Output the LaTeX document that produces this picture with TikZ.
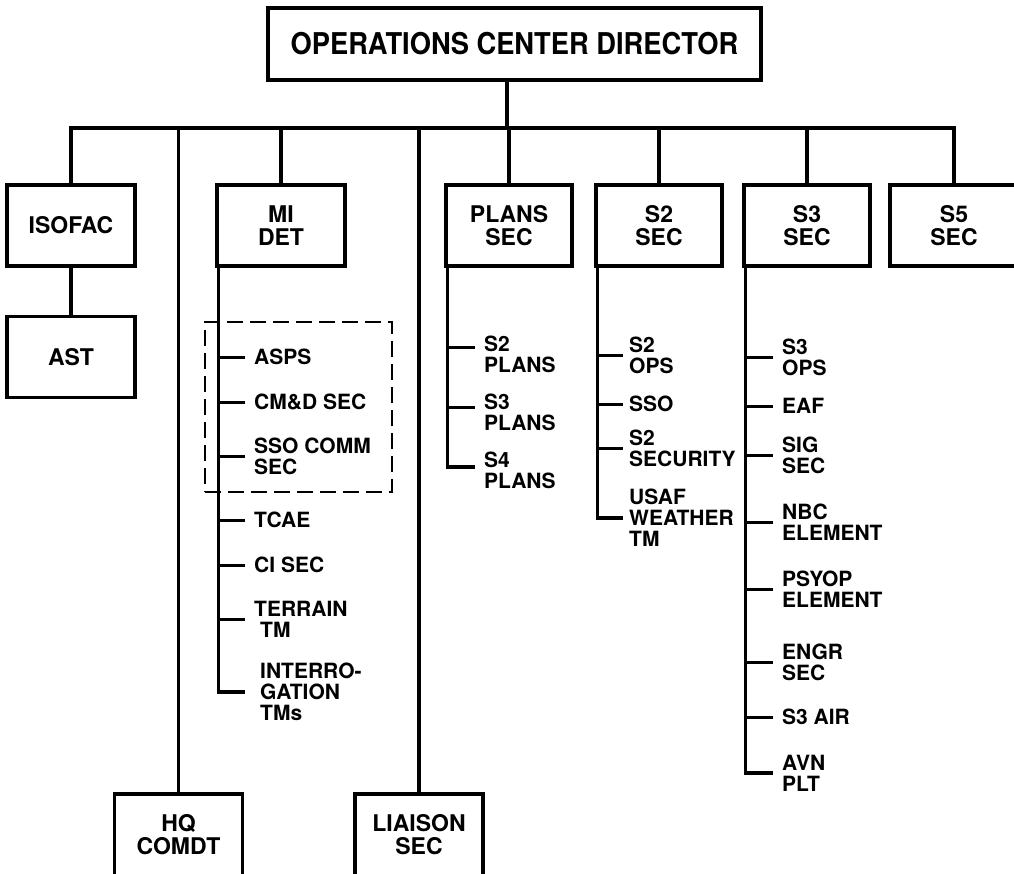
\documentclass[tikz,border=0pt]{standalone}
\usepackage{fontspec}
\setmainfont{TeX Gyre Heros}
\usepackage{graphicx}
\usetikzlibrary{calc}
\begin{document}
\begin{tikzpicture}[x=1pt,y=-1pt,
  orgbox/.style={draw, line width=3.2pt, minimum width=128pt, minimum height=81pt,
    inner sep=0pt, align=center, font=\fontsize{23}{23}\selectfont\bfseries},
  item/.style={anchor=west, inner sep=0pt, align=left,
    font=\fontsize{21}{21}\selectfont\bfseries},
  link/.style={line width=3.5pt, line join=miter},
  tick/.style={line width=3pt},
  grpbox/.style={draw, line width=2.6pt, dash pattern=on 16pt off 7pt, inner sep=0pt,
    minimum width=187pt, minimum height=170pt}]
\useasboundingbox (0,0) rectangle (1014,874);
\clip (0,0) rectangle (1014,874);

% boxes
\node[draw, line width=4.8pt, minimum width=493pt, minimum height=72pt, inner sep=0pt]
  (title) at (514.5,44) {\fontsize{30}{30}\selectfont\bfseries\scalebox{0.91}[1]{OPERATIONS CENTER DIRECTOR}};
\node[orgbox] (isofac) at (71,225.5) {ISOFAC};
\node[orgbox] (ast) at (71,357) {AST};
\node[orgbox] (mi) at (281,225.5) {MI\\DET};
\node[orgbox, minimum width=126pt] (plans) at (509,225.5) {PLANS\\SEC};
\node[orgbox, minimum width=126pt] (s2) at (659,225.5) {S2\\SEC};
\node[orgbox, minimum width=126pt] (s3) at (807,225.5) {S3\\SEC};
\node[orgbox] (s5) at (954,225.5) {S5\\SEC};
\node[orgbox, minimum height=82pt] (hq) at (178.5,835) {HQ\\COMDT};
\node[orgbox, minimum height=82pt] (liaison) at (419,835) {LIAISON\\SEC};

% bus
\coordinate (tdrop) at (507,128);
\draw[link] (title.south -| tdrop) -- (tdrop);
\draw[link] (isofac.north) -- (isofac.north |- tdrop) -- (s5.north |- tdrop) -- (s5.north);
\foreach \n in {mi,plans,s2,s3,hq,liaison}
  \draw[link] (\n.north) -- (\n.north |- tdrop);
\draw[link] (isofac.south) -- (ast.north);

% MI DET items
\coordinate (mitop) at ($(mi.south west)+(3,0)$);
\node[grpbox] (grp) at (298.5,407) {};
\node[item] (asps) at (254,357) {ASPS};
\node[item] (cmd) at (254,402) {CM\&D SEC};
\node[item] (ssocomm) at (254,456) {SSO COMM\\SEC};
\node[item] (tcae) at (254,520) {TCAE};
\node[item] (cisec) at (254,565) {CI SEC};
\node[item] (terrain) at (254,619) {TERRAIN\\\hspace*{6pt}TM};
\node[item] (interro) at (260,692) {INTERRO-\\GATION\\TMs};
\draw[link, shorten >=15pt] (mitop) |- (interro.west);
\foreach \n in {asps,cmd,ssocomm,tcae,cisec,terrain}
  \draw[tick] (\n.west -| mitop) -- ([xshift=-9pt]\n.west);

% PLANS items
\coordinate (pltop) at ($(plans.south west)+(3,0)$);
\node[item] (s2plans) at (484,354) {S2\\PLANS};
\node[item] (s3plans) at (484,412) {S3\\PLANS};
\node[item] (s4plans) at (484,470) {S4\\PLANS};
\draw[link] (pltop) |- ([xshift=-9pt,yshift=3pt]s4plans.west);
\draw[tick] ([yshift=7pt]s2plans.west -| pltop) -- ([xshift=-9pt,yshift=7pt]s2plans.west);
\draw[tick] ([yshift=5pt]s3plans.west -| pltop) -- ([xshift=-9pt,yshift=5pt]s3plans.west);

% S2 items
\coordinate (s2top) at ($(s2.south west)+(3,0)$);
\node[item] (s2ops) at (629,355) {S2\\OPS};
\node[item] (sso) at (629,404) {SSO};
\node[item] (s2secu) at (629,448) {S2\\SECURITY};
\node[item] (usaf) at (629,518) {USAF\\WEATHER\\TM};
\draw[link] (s2top) |- ([xshift=-6pt]usaf.west);
\foreach \n in {s2ops,sso,s2secu}
  \draw[tick] (\n.west -| s2top) -- ([xshift=-6pt]\n.west);

% S3 items
\coordinate (s3top) at ($(s3.south west)+(3,0)$);
\node[item] (s3ops) at (782,357) {S3\\OPS};
\node[item] (eaf) at (782,406) {EAF};
\node[item] (sig) at (782,455) {SIG\\SEC};
\node[item] (nbc) at (782,522) {NBC\\ELEMENT};
\node[item] (psyop) at (782,589) {PSYOP\\ELEMENT};
\node[item] (engr) at (782,662) {ENGR\\SEC};
\node[item] (s3air) at (782,717) {S3 AIR};
\node[item] (avn) at (782,773) {AVN\\PLT};
\draw[link] (s3top) |- ([xshift=-9pt]avn.west);
\foreach \n in {s3ops,eaf,sig,nbc,psyop,engr,s3air}
  \draw[tick] (\n.west -| s3top) -- ([xshift=-9pt]\n.west);
\end{tikzpicture}
\end{document}
